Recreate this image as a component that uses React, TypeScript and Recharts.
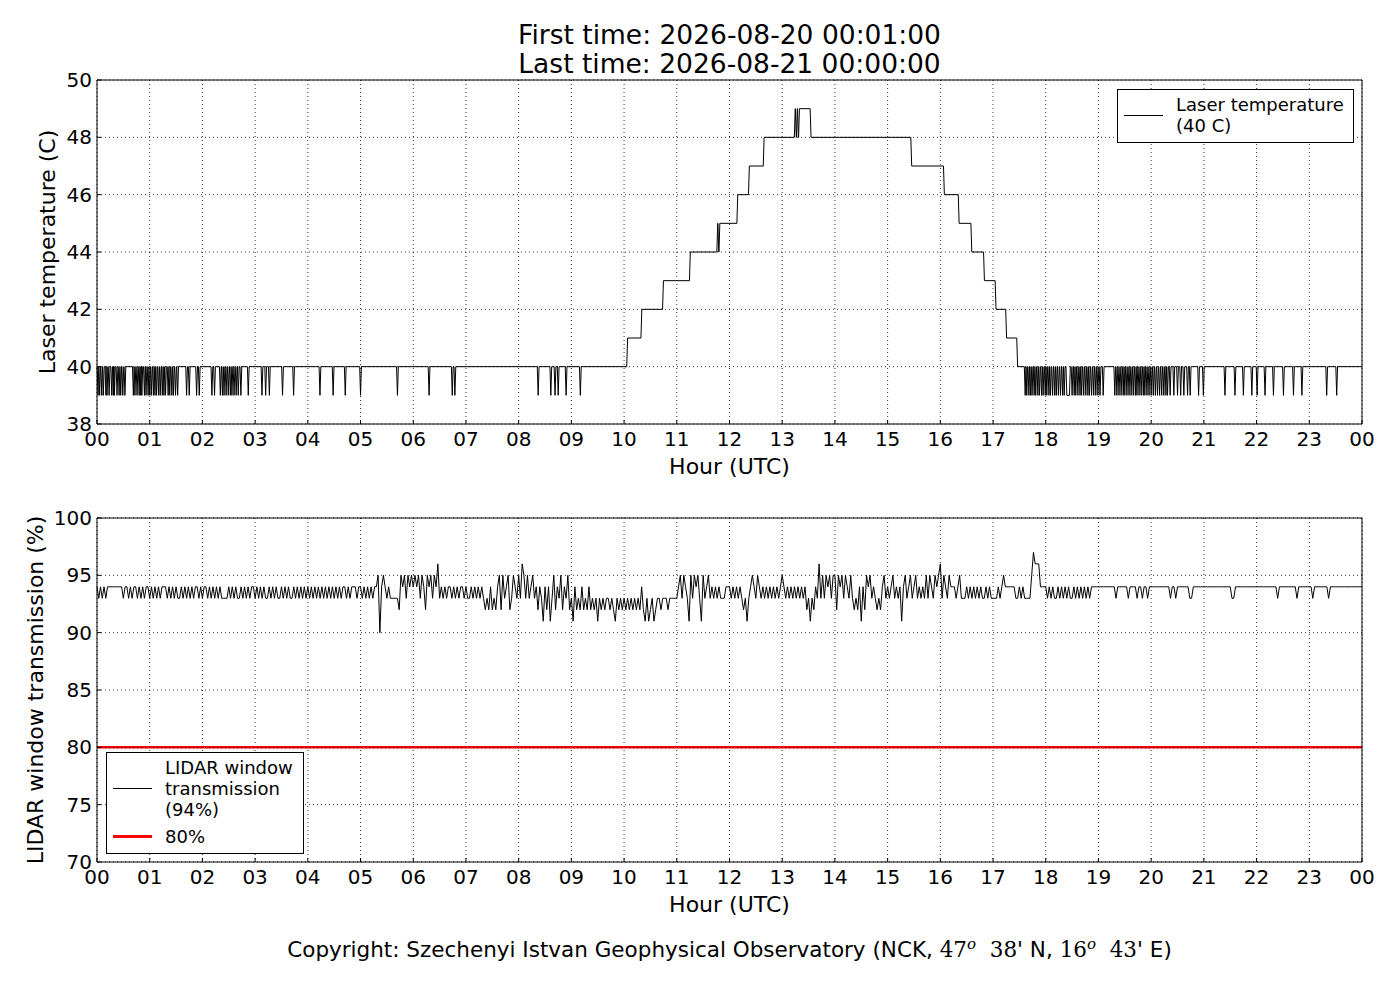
import React from 'react';
import { LineChart, Line, XAxis, YAxis, CartesianGrid, Legend, ReferenceLine } from 'recharts';

const FONT = 'DejaVu Sans';

const titleLines = ['First time: 2026-08-20 00:01:00', 'Last time: 2026-08-21 00:00:00'];

const hourTicks = [0, 1, 2, 3, 4, 5, 6, 7, 8, 9, 10, 11, 12, 13, 14, 15, 16, 17, 18, 19, 20, 21, 22, 23, 24];
const laserTicks = [38, 40, 42, 44, 46, 48, 50];
const transTicks = [70, 75, 80, 85, 90, 95, 100];

// laser temperature: [hour, level] where the level changes
const laserSteps: [number, number][] = [
  [0, 40], [10.05, 41], [10.32, 42], [10.73, 43], [11.24, 44], [11.76, 45], [11.78, 44], [11.8, 45],
  [12.14, 46], [12.36, 47], [12.64, 48], [13.23, 49], [13.25, 48], [13.27, 49], [13.29, 48], [13.31, 49],
  [13.53, 48], [15.44, 47], [16.06, 46], [16.34, 45], [16.58, 44], [16.82, 43], [17.04, 42], [17.24, 41],
  [17.45, 40],
];
const laserBase = 40;
const laserLow = 39;
// one-minute drops from 40 to 39 C (hour of the drop)
const laserDips = [
  0.02, 0.05, 0.09, 0.12, 0.17, 0.19, 0.23, 0.28, 0.31, 0.33, 0.38, 0.42, 0.45, 0.49, 0.53,
  0.69, 0.72, 0.76, 0.8, 0.83, 0.85, 0.9, 0.93, 0.97, 1.0,
  1.03, 1.07, 1.1, 1.13, 1.17, 1.2, 1.24, 1.27, 1.3, 1.35, 1.38, 1.42, 1.45, 1.49, 1.53,
  1.7, 1.75, 1.89, 1.94, 2.18, 2.23,
  2.34, 2.38, 2.41, 2.45, 2.49, 2.53, 2.56, 2.6, 2.64, 2.68, 2.73,
  2.87, 3.13, 3.2, 3.27, 3.52, 3.73, 4.23, 4.48, 4.71, 5.0, 5.7,
  6.3, 6.74, 6.79, 8.37, 8.61, 8.69, 8.75, 8.9, 9.17,
  17.61, 17.64, 17.68, 17.71, 17.74, 17.78, 17.81, 17.85, 17.88, 17.92, 17.95, 17.99,
  18.02, 18.06, 18.09, 18.13, 18.17, 18.2, 18.24, 18.28, 18.32, 18.35,
  18.5, 18.54, 18.57, 18.61, 18.65, 18.68, 18.72, 18.76, 18.8, 18.83, 18.87, 18.91, 18.95, 18.99,
  19.03, 19.09,
  19.31, 19.35, 19.39, 19.43, 19.47, 19.5, 19.54, 19.58, 19.62, 19.66, 19.7, 19.73, 19.77, 19.81,
  19.85, 19.88, 19.92, 19.96, 20.0, 20.04, 20.08, 20.12, 20.16, 20.2, 20.24, 20.28, 20.31, 20.36,
  20.43, 20.5, 20.56, 20.62, 20.69, 20.74,
  20.9, 20.99, 21.4, 21.59, 21.75, 21.91, 22.01, 22.16, 22.32, 22.51, 22.7, 22.86, 23.33, 23.52,
];
const laserLongDips: [number, number][] = [[18.4, 18.45]];

// LIDAR window transmission (%), one value every 2 minutes, one row per hour
const trans00 = [94, 93, 94, 93, 94, 93, 94, 94, 94, 94, 94, 94, 94, 94, 94, 93, 94, 94, 93, 94, 93, 94, 94, 93, 94, 93, 94, 93, 94, 94];
const trans01 = [93, 94, 93, 94, 93, 94, 93, 94, 94, 94, 93, 94, 93, 94, 93, 94, 93, 93, 94, 93, 94, 93, 94, 93, 94, 93, 94, 94, 93, 94];
const trans02 = [93, 94, 94, 93, 94, 93, 94, 93, 94, 93, 94, 93, 93, 93, 93, 94, 93, 94, 93, 94, 93, 93, 94, 93, 94, 93, 94, 93, 94, 94];
const trans03 = [93, 94, 93, 94, 93, 94, 93, 93, 94, 93, 94, 93, 94, 93, 93, 94, 93, 94, 93, 94, 93, 93, 94, 93, 94, 93, 94, 93, 94, 93];
const trans04 = [94, 93, 94, 93, 94, 93, 94, 93, 94, 93, 94, 93, 94, 93, 94, 93, 94, 93, 94, 93, 94, 94, 93, 94, 93, 94, 94, 94, 93, 94];
const trans05 = [94, 93, 94, 93, 94, 93, 94, 93, 94, 94, 95, 90, 94, 95, 94, 93, 94, 93, 93, 93, 93, 93, 92, 95, 94, 95, 93, 95, 94, 95];
const trans06 = [94, 95, 94, 95, 93, 95, 94, 92, 95, 94, 95, 93, 95, 94, 96, 93, 94, 93, 94, 93, 94, 94, 93, 94, 93, 94, 93, 94, 94, 93];
const trans07 = [94, 93, 93, 94, 93, 94, 93, 94, 93, 94, 93, 92, 93, 92, 94, 92, 93, 92, 94, 95, 92, 95, 93, 94, 95, 92, 93, 95, 94, 93];
const trans08 = [95, 93, 96, 95, 93, 95, 93, 94, 95, 93, 94, 92, 94, 93, 91, 94, 92, 94, 91, 93, 95, 92, 94, 93, 95, 92, 94, 93, 95, 92];
const trans09 = [93, 91, 94, 92, 93, 92, 94, 92, 93, 92, 94, 92, 93, 92, 93, 91, 93, 92, 93, 92, 93, 93, 92, 93, 92, 91, 93, 92, 93, 92];
const trans10 = [93, 92, 93, 92, 93, 92, 93, 92, 93, 92, 94, 92, 91, 93, 91, 92, 93, 91, 92, 93, 93, 92, 93, 93, 93, 92, 93, 93, 93, 93];
const trans11 = [93, 94, 95, 93, 95, 94, 93, 91, 95, 93, 95, 94, 95, 93, 91, 95, 93, 94, 95, 93, 94, 93, 94, 93, 94, 93, 93, 93, 94, 94];
const trans12 = [94, 93, 94, 93, 94, 93, 94, 93, 92, 93, 91, 93, 94, 95, 94, 93, 95, 94, 93, 94, 93, 94, 93, 94, 93, 94, 93, 94, 93, 94];
const trans13 = [95, 94, 93, 94, 93, 94, 93, 94, 93, 94, 93, 94, 93, 94, 92, 93, 91, 93, 92, 94, 93, 96, 93, 95, 93, 95, 94, 95, 93, 95];
const trans14 = [95, 92, 95, 94, 95, 93, 95, 94, 93, 95, 93, 92, 93, 92, 94, 91, 94, 92, 95, 94, 95, 93, 94, 93, 92, 93, 92, 94, 95, 93];
const trans15 = [94, 93, 94, 95, 93, 94, 93, 94, 91, 94, 95, 93, 94, 95, 93, 94, 95, 93, 94, 93, 94, 93, 95, 93, 95, 94, 93, 95, 94, 95];
const trans16 = [96, 93, 95, 94, 93, 95, 94, 94, 94, 93, 94, 95, 93, 93, 93, 94, 93, 94, 93, 94, 93, 94, 93, 94, 93, 93, 94, 93, 94, 93];
const trans17 = [93, 93, 93, 94, 93, 94, 95, 94, 94, 94, 94, 94, 94, 93, 93, 94, 93, 94, 93, 93, 93, 93, 95, 97, 96, 96, 96, 94, 94, 94];
const trans18 = [94, 93, 94, 93, 94, 93, 93, 94, 93, 94, 93, 94, 93, 94, 93, 93, 94, 93, 94, 93, 94, 93, 94, 93, 94, 93, 94, 94, 94, 94];
const trans19 = [94, 94, 94, 94, 94, 94, 94, 94, 94, 94, 93, 94, 94, 94, 94, 94, 94, 93, 94, 94, 94, 94, 93, 94, 94, 93, 94, 94, 93, 94];
const trans20 = [94, 94, 94, 94, 94, 94, 94, 94, 94, 94, 94, 93, 94, 94, 93, 94, 94, 94, 94, 94, 94, 94, 93, 93, 94, 94, 94, 94, 94, 94];
const trans21 = [94, 94, 94, 94, 94, 94, 94, 94, 94, 94, 94, 94, 94, 94, 94, 94, 93, 93, 94, 94, 94, 94, 94, 94, 94, 94, 94, 94, 94, 94];
const trans22 = [94, 94, 94, 94, 94, 94, 94, 94, 94, 94, 94, 94, 93, 94, 94, 94, 94, 94, 94, 94, 94, 94, 94, 93, 94, 94, 94, 94, 94, 94];
const trans23 = [94, 94, 93, 94, 94, 94, 94, 94, 94, 94, 94, 93, 94, 94, 94, 94, 94, 94, 94, 94, 94, 94, 94, 94, 94, 94, 94, 94, 94, 94];
const transHours = [
  trans00, trans01, trans02, trans03, trans04, trans05, trans06, trans07, trans08, trans09, trans10, trans11,
  trans12, trans13, trans14, trans15, trans16, trans17, trans18, trans19, trans20, trans21, trans22, trans23,
];
const transEnd = 94;
const transLimit = 80;

const MIN = 1 / 60;

function buildLaser() {
  const pts: { h: number; v: number }[] = [];
  let prev = laserSteps[0][1];
  pts.push({ h: 0, v: prev });
  laserSteps.slice(1).forEach(([t, v]) => {
    pts.push({ h: t, v: prev }, { h: t + MIN, v });
    prev = v;
  });
  laserDips.forEach((t) => pts.push({ h: t - MIN, v: laserBase }, { h: t, v: laserLow }, { h: t + MIN, v: laserBase }));
  laserLongDips.forEach(([s, e]) =>
    pts.push({ h: s - MIN, v: laserBase }, { h: s, v: laserLow }, { h: e, v: laserLow }, { h: e + MIN, v: laserBase })
  );
  pts.push({ h: 24, v: prev });
  return pts.sort((a, b) => a.h - b.h);
}

function buildTrans() {
  const pts = transHours.flatMap((vals, hr) => vals.map((v, i) => ({ h: hr + i / vals.length, v })));
  pts.push({ h: 24, v: transEnd });
  return pts;
}

const laserData = buildLaser();
const transData = buildTrans();

const hourFmt = (h: number) => String(h % 24).padStart(2, '0');
const tickStyle = { fill: '#000', fontSize: 20, fontFamily: FONT };
const gridProps = { stroke: '#000', strokeDasharray: '1 3', strokeWidth: 0.8 };

const xLabel = () => (
  <text x={729.5} y={466} textAnchor="middle" dominantBaseline="central" fontSize={22} fontFamily={FONT} fill="#000">
    Hour (UTC)
  </text>
);

const yLabel = (value: string, x: number) => () => (
  <text x={x} y={252} transform={`rotate(-90 ${x} 252)`} textAnchor="middle" dominantBaseline="central"
    fontSize={22} fontFamily={FONT} fill="#000">
    {value}
  </text>
);

type Entry = { lines: string[]; color: string; width: number; gap?: number };

const LegendBox = ({ entries, width }: { entries: Entry[]; width: number }) => (
  <div style={{
    boxSizing: 'border-box', width, border: '1px solid #000', background: '#fff',
    padding: '4px 6px 6px 6px', fontFamily: FONT, fontSize: 18, lineHeight: '21px', color: '#000',
  }}>
    {entries.map((e, i) => (
      <div key={i} style={{ display: 'flex', alignItems: 'center', marginTop: e.gap || 0 }}>
        <div style={{ width: 39, height: 0, borderTop: `${e.width}px solid ${e.color}`, marginRight: 13, flex: 'none' }} />
        <div>{e.lines.map((l, j) => <div key={j} style={{ whiteSpace: 'nowrap' }}>{l}</div>)}</div>
      </div>
    ))}
  </div>
);

const chartMargin = { top: 79, right: 37, bottom: 0, left: 37 };

const frameAxes = (domain: number[], ticks: number[]) => [
  <XAxis key="xt" xAxisId="top" orientation="top" type="number" dataKey="h" domain={[0, 24]} ticks={hourTicks}
    height={1} tick={false} tickSize={-4} stroke="#000" />,
  <YAxis key="yr" yAxisId="r" orientation="right" type="number" domain={domain} ticks={ticks}
    width={1} tick={false} tickSize={-4} stroke="#000" />,
];

const serif = { fontFamily: 'DejaVu Serif' };
const supO = { fontFamily: 'DejaVu Serif', fontStyle: 'italic' as const, fontSize: 15, lineHeight: 0 };

export default function App() {
  return (
    <div style={{ position: 'absolute', left: 0, top: 0, width: 1400, height: 1000, background: '#fff', fontFamily: FONT }}>
      <div style={{ position: 'absolute', left: 97, top: 20, width: 1265, textAlign: 'center', fontSize: 26.5, lineHeight: '29px', color: '#000' }}>
        {titleLines.map((t) => <div key={t}>{t}</div>)}
      </div>

      <div style={{ position: 'absolute', left: 0, top: 0 }}>
        <LineChart width={1400} height={480} data={laserData} margin={chartMargin}>
          <CartesianGrid {...gridProps} />
          <XAxis type="number" dataKey="h" domain={[0, 24]} ticks={hourTicks} interval={0} tickFormatter={hourFmt}
            height={56} tick={tickStyle} tickSize={-4} tickMargin={12} stroke="#000" label={{ content: xLabel }} />
          <YAxis type="number" domain={[38, 50]} ticks={laserTicks} interval={0} width={60}
            tick={tickStyle} tickSize={-4} tickMargin={9} stroke="#000" label={{ content: yLabel('Laser temperature (C)', 47) }} />
          {frameAxes([38, 50], laserTicks)}
          <Legend layout="vertical" align="center" verticalAlign="middle"
            wrapperStyle={{ left: 1117, top: 89, width: 237, height: 'auto' }}
            content={() => <LegendBox width={237} entries={[{ lines: ['Laser temperature', '(40 C)'], color: '#000', width: 1 }]} />} />
          <Line type="linear" dataKey="v" stroke="#000" strokeWidth={1} dot={false} isAnimationActive={false} />
        </LineChart>
      </div>

      <div style={{ position: 'absolute', left: 0, top: 438 }}>
        <LineChart width={1400} height={480} data={transData} margin={chartMargin}>
          <CartesianGrid {...gridProps} />
          <XAxis type="number" dataKey="h" domain={[0, 24]} ticks={hourTicks} interval={0} tickFormatter={hourFmt}
            height={56} tick={tickStyle} tickSize={-4} tickMargin={12} stroke="#000" label={{ content: xLabel }} />
          <YAxis type="number" domain={[70, 100]} ticks={transTicks} interval={0} width={60}
            tick={tickStyle} tickSize={-4} tickMargin={9} stroke="#000" label={{ content: yLabel('LIDAR window transmission (%)', 35) }} />
          {frameAxes([70, 100], transTicks)}
          <ReferenceLine y={transLimit} stroke="#ff0000" strokeWidth={2.5} />
          <ReferenceLine y={transLimit} stroke="#000" strokeDasharray="1 3" strokeWidth={0.8} />
          <Legend layout="vertical" align="center" verticalAlign="middle"
            wrapperStyle={{ left: 106, top: 314, width: 198, height: 'auto' }}
            content={() => (
              <LegendBox width={198} entries={[
                { lines: ['LIDAR window', 'transmission', '(94%)'], color: '#000', width: 1 },
                { lines: ['80%'], color: '#ff0000', width: 3, gap: 6 },
              ]} />
            )} />
          <Line type="linear" dataKey="v" stroke="#000" strokeWidth={1} dot={false} isAnimationActive={false} />
        </LineChart>
      </div>

      <div style={{ position: 'absolute', left: 97, top: 937, width: 1265, textAlign: 'center', fontSize: 21.5, lineHeight: '26px', color: '#000' }}>
        Copyright: Szechenyi Istvan Geophysical Observatory (NCK,{' '}
        <span style={serif}>47</span>
        <sup style={supO}>o</sup>
        {'\u00a0\u00a0'}
        <span style={serif}>38</span>' N,{' '}
        <span style={serif}>16</span>
        <sup style={supO}>o</sup>
        {'\u00a0\u00a0'}
        <span style={serif}>43</span>' E)
      </div>
    </div>
  );
}
